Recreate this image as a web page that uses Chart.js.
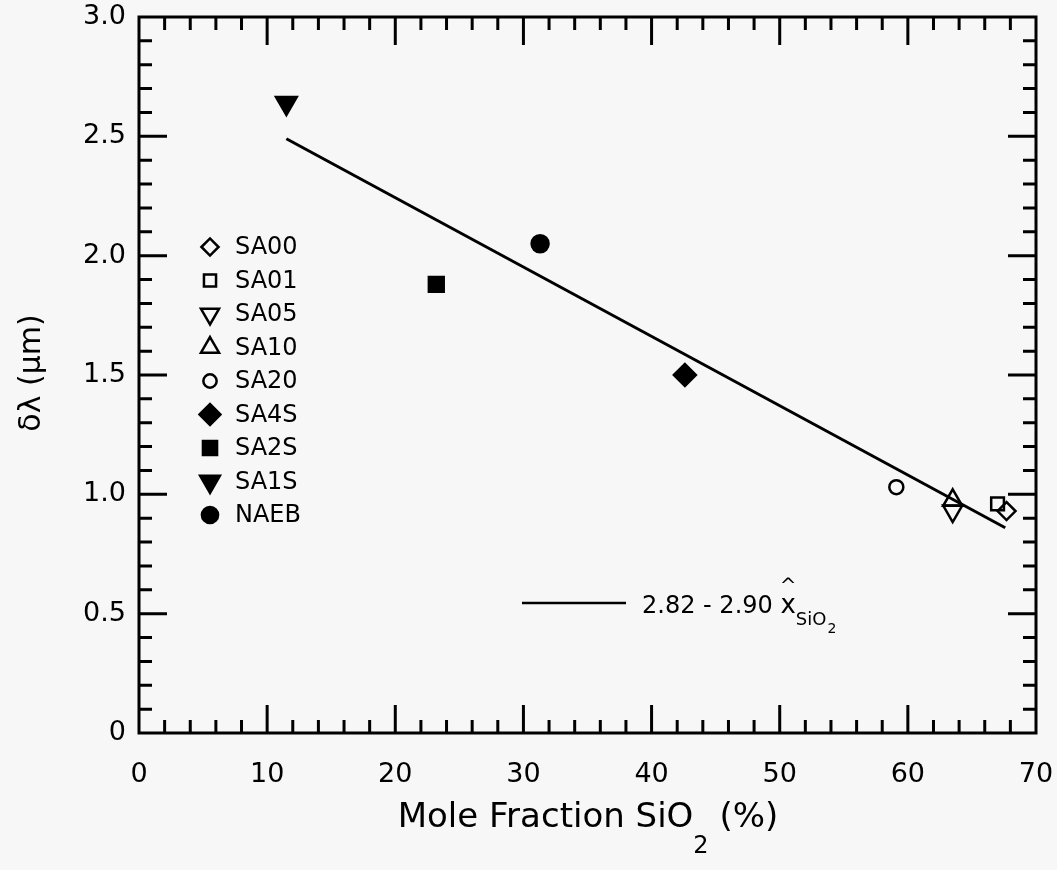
<!DOCTYPE html>
<html>
<head>
<meta charset="utf-8">
<script src="https://cdn.jsdelivr.net/npm/chart.js@4.4.1/dist/chart.umd.min.js"></script>
<style>
  body { margin: 0; background: #f7f7f7; }
  #wrap { width: 1057px; height: 870px; position: relative; }
</style>
</head>
<body>
<div id="wrap"><canvas id="graphique"></canvas></div>
<script>
// Données
const seriesNames = ["SA00", "SA01", "SA05", "SA10", "SA20", "SA4S", "SA2S", "SA1S", "NAEB"];
const xValues = [67.7, 67.0, 63.5, 63.5, 59.1, 42.6, 23.2, 11.5, 31.3];
const yValues = [0.93, 0.96, 0.93, 0.975, 1.03, 1.50, 1.88, 2.64, 2.05];
const fitX = [11.5, 67.6];
const fitY = [2.49, 0.86];
const xTickLabels = ["0", "10", "20", "30", "40", "50", "60", "70"];
const yTickLabels = ["0", "0.5", "1.0", "1.5", "2.0", "2.5", "3.0"];

// styles des marqueurs (même ordre que seriesNames)
const markerStyles = [
    { style: "rectRot", rot: 0, fill: false, r: 9 },
    { style: "rect", rot: 0, fill: false, r: 9 },
    { style: "triangle", rot: 180, fill: false, r: 11 },
    { style: "triangle", rot: 0, fill: false, r: 11 },
    { style: "circle", rot: 0, fill: false, r: 7 },
    { style: "rectRot", rot: 0, fill: true, r: 11 },
    { style: "rect", rot: 0, fill: true, r: 10.5 },
    { style: "triangle", rot: 180, fill: true, r: 12 },
    { style: "circle", rot: 0, fill: true, r: 8.5 }
];

const FONT = "'DejaVu Sans', Arial, sans-serif";
const INK = "#000";

const datasets = seriesNames.map((name, i) => {
    const m = markerStyles[i];
    return {
        label: name,
        data: [{ x: xValues[i], y: yValues[i] }],
        pointStyle: m.style,
        rotation: m.rot,
        pointRadius: m.r,
        pointBorderWidth: 2.5,
        pointBorderColor: INK,
        pointBackgroundColor: m.fill ? INK : "rgba(0,0,0,0)",
        showLine: false
    };
});
datasets.push({
    label: "fit",
    data: fitX.map((x, i) => ({ x: x, y: fitY[i] })),
    showLine: true,
    borderColor: INK,
    borderWidth: 3,
    pointRadius: 0
});

// fond
const fond = {
    id: "fond",
    beforeDraw(chart) {
        const ctx = chart.ctx;
        ctx.save();
        ctx.fillStyle = "#f7f7f7";
        ctx.fillRect(0, 0, chart.width, chart.height);
        ctx.restore();
    }
};

// cadre + graduations vers l'intérieur
const cadre = {
    id: "cadre",
    afterDatasetsDraw(chart) {
        const ctx = chart.ctx;
        const a = chart.chartArea;
        const xs = chart.scales.x;
        const ys = chart.scales.y;
        ctx.save();
        ctx.strokeStyle = INK;
        ctx.lineWidth = 3;
        ctx.strokeRect(a.left, a.top, a.right - a.left, a.bottom - a.top);
        ctx.beginPath();
        for (let v = 2; v < 70; v += 2) {
            const px = xs.getPixelForValue(v);
            const len = v % 10 === 0 ? 28 : 13;
            ctx.moveTo(px, a.bottom); ctx.lineTo(px, a.bottom - len);
            ctx.moveTo(px, a.top); ctx.lineTo(px, a.top + len);
        }
        for (let i = 1; i < 30; i++) {
            const py = ys.getPixelForValue(i / 10);
            const len = i % 5 === 0 ? 28 : 13;
            ctx.moveTo(a.left, py); ctx.lineTo(a.left + len, py);
            ctx.moveTo(a.right, py); ctx.lineTo(a.right - len, py);
        }
        ctx.stroke();
        ctx.restore();
    }
};

// titres, légende et annotation de la droite
const textes = {
    id: "textes",
    afterDraw(chart) {
        const ctx = chart.ctx;
        ctx.save();
        ctx.fillStyle = INK;
        ctx.textBaseline = "alphabetic";

        // titre axe x avec indice
        const big = "34px " + FONT, sub = "24px " + FONT;
        ctx.font = big;
        const p1 = "Mole Fraction SiO", p3 = " (%)";
        const w1 = ctx.measureText(p1).width, w3 = ctx.measureText(p3).width;
        ctx.font = sub;
        const w2 = ctx.measureText("2").width;
        let x = 588 - (w1 + w2 + w3) / 2;
        ctx.font = big; ctx.textAlign = "left";
        ctx.fillText(p1, x, 827); x += w1;
        ctx.font = sub; ctx.fillText("2", x, 853); x += w2;
        ctx.font = big; ctx.fillText(p3, x, 827);

        // titre axe y
        ctx.save();
        ctx.translate(32, 373);
        ctx.rotate(-Math.PI / 2);
        ctx.font = "30px " + FONT;
        ctx.textAlign = "center";
        ctx.textBaseline = "middle";
        ctx.fillText("\u03b4\u03bb (\u00b5m)", 0, 0);
        ctx.restore();

        // légende
        ctx.font = "24px " + FONT;
        ctx.textAlign = "left";
        ctx.textBaseline = "middle";
        seriesNames.forEach((name, i) => {
            const m = markerStyles[i];
            const ly = 247 + i * 33.5;
            ctx.strokeStyle = INK;
            ctx.lineWidth = 2.5;
            ctx.fillStyle = m.fill ? INK : "rgba(0,0,0,0)";
            Chart.helpers.drawPoint(ctx, { pointStyle: m.style, rotation: m.rot, radius: m.r * 0.95, borderWidth: 2.5 }, 210, ly);
            ctx.fillStyle = INK;
            ctx.fillText(name, 235, ly + 1);
        });

        // annotation de la droite
        ctx.strokeStyle = INK;
        ctx.lineWidth = 2.5;
        ctx.beginPath();
        ctx.moveTo(522, 603); ctx.lineTo(626, 603);
        ctx.stroke();
        ctx.textBaseline = "alphabetic";
        ctx.font = "24px " + FONT;
        let ax = 642;
        const eq = "2.82 - 2.90 ";
        ctx.fillText(eq, ax, 613);
        ax += ctx.measureText(eq).width;
        ctx.font = "26px " + FONT;
        ctx.fillText("x", ax, 613);
        const wx = ctx.measureText("x").width;
        ctx.font = "20px " + FONT;
        ctx.textAlign = "center";
        ctx.fillText("^", ax + wx / 2, 592);
        ctx.textAlign = "left";
        ax += wx;
        ctx.font = "18px " + FONT;
        ctx.fillText("SiO", ax, 625);
        ax += ctx.measureText("SiO").width;
        ctx.font = "14px " + FONT;
        ctx.fillText("2", ax + 1, 633);
        ctx.restore();
    }
};

const config = {
    type: "scatter",
    data: { datasets: datasets },
    options: {
        responsive: true,
        maintainAspectRatio: false,
        animation: false,
        layout: { padding: { top: 17, right: 21, left: 0, bottom: 0 } },
        plugins: { legend: { display: false }, tooltip: { enabled: false } },
        scales: {
            x: {
                type: "linear",
                min: 0,
                max: 70,
                afterFit(scale) {
                    scale.height = 137;
                    scale.paddingLeft = 0;
                    scale.paddingRight = 0;
                },
                grid: { display: false, drawTicks: false },
                border: { display: false },
                ticks: {
                    stepSize: 10,
                    padding: 26,
                    color: INK,
                    font: { family: FONT, size: 27 },
                    callback: v => xTickLabels[Math.round(v / 10)]
                }
            },
            y: {
                type: "linear",
                min: 0,
                max: 3,
                afterFit(scale) {
                    scale.width = 139;
                    scale.paddingTop = 0;
                    scale.paddingBottom = 0;
                },
                grid: { display: false, drawTicks: false },
                border: { display: false },
                ticks: {
                    stepSize: 0.5,
                    padding: 13,
                    color: INK,
                    font: { family: FONT, size: 27 },
                    callback: v => yTickLabels[Math.round(v * 2)]
                }
            }
        }
    },
    plugins: [fond, cadre, textes]
};

const graphique = new Chart(document.querySelector("#graphique"), config);
</script>
</body>
</html>
